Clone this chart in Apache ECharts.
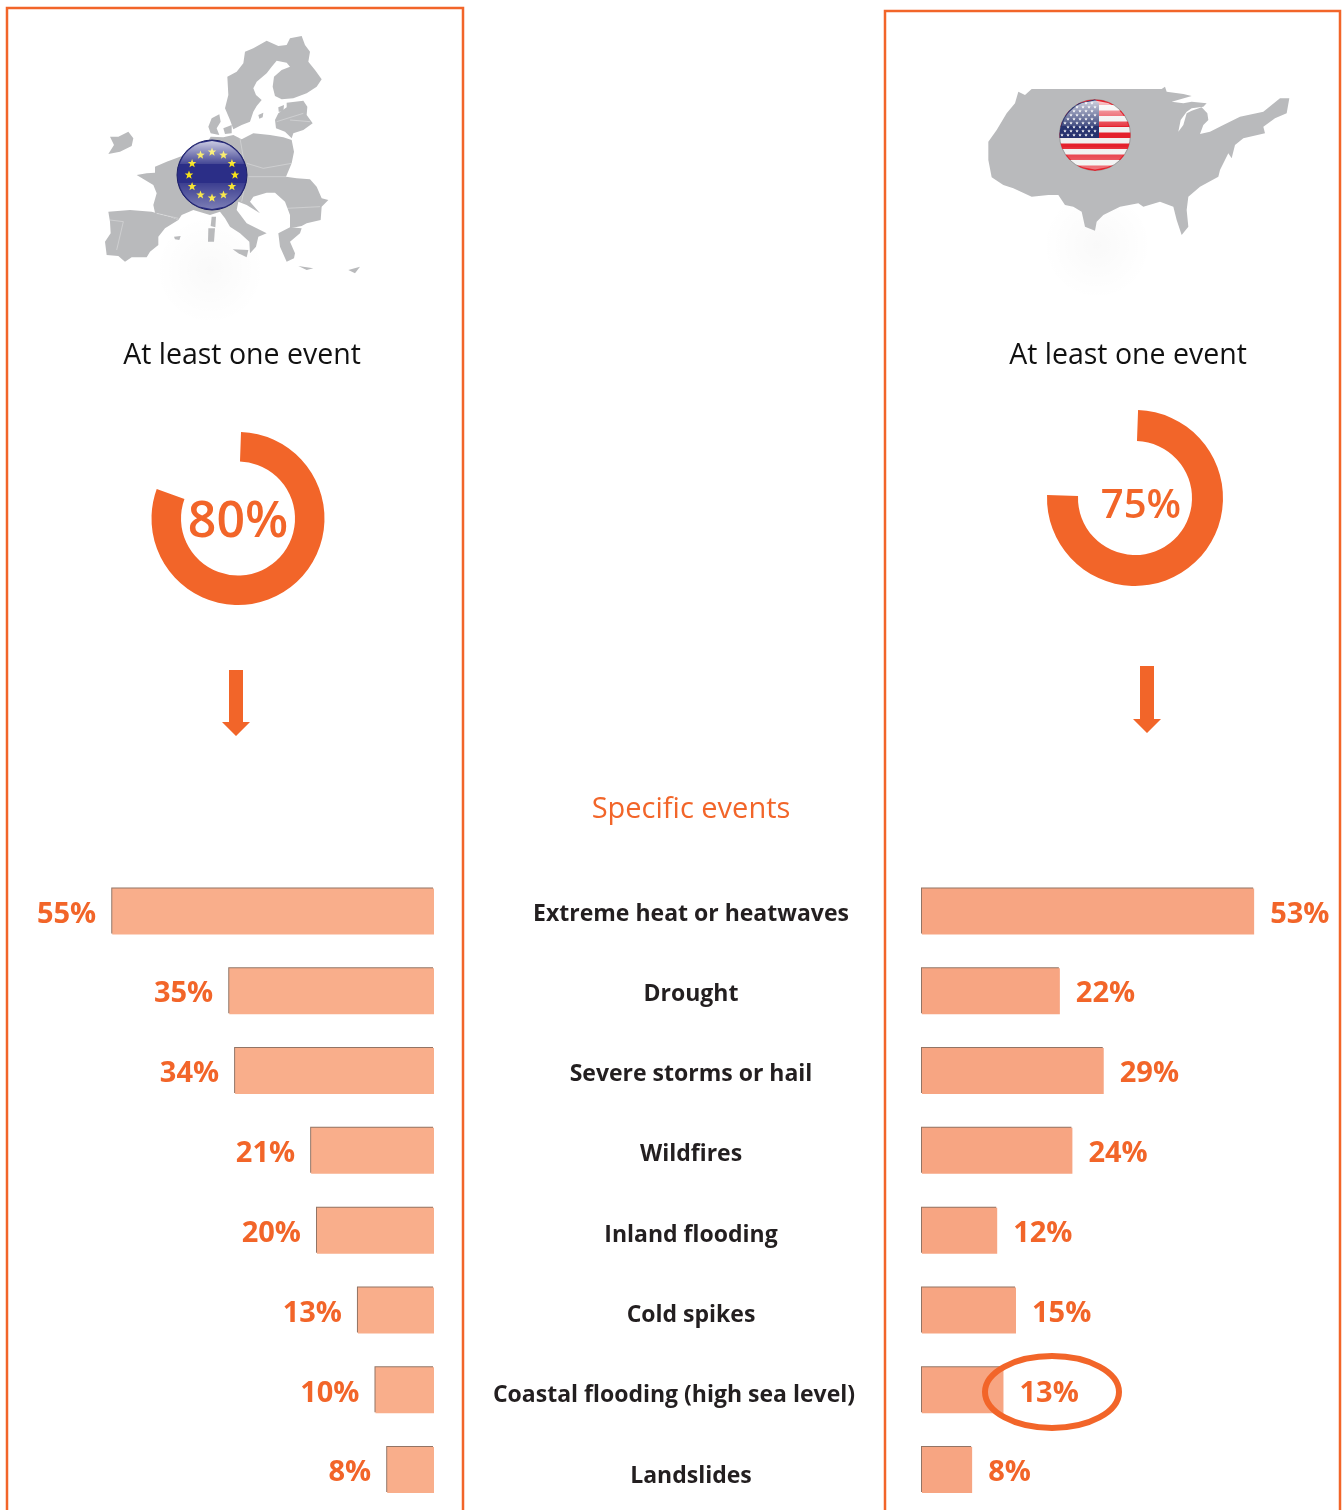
<!DOCTYPE html>
<html>
<head>
<meta charset="utf-8">
<title>Extreme weather events</title>
<style>
  html, body { margin: 0; padding: 0; background: #fff; }
  #main { width: 1342px; height: 1510px; }
</style>
</head>
<body>
<div id="main"></div>
<script src="https://cdn.jsdelivr.net/npm/echarts@6/dist/echarts.min.js"></script>
<script>
// data
var categories = ["Extreme heat or heatwaves", "Drought", "Severe storms or hail", "Wildfires", "Inland flooding", "Cold spikes", "Coastal flooding (high sea level)", "Landslides"];
var euValues = [55, 35, 34, 21, 20, 13, 10, 8];
var usValues = [53, 22, 29, 24, 12, 15, 13, 8];
var euAtLeastOne = 80;
var usAtLeastOne = 75;
var atLeastOneText = "At least one event";
var specificText = "Specific events";

var ORANGE = "#f26529";
var GREY = "#b9babc";
var FONT = '"Open Sans", "Noto Sans", sans-serif';

var chart = echarts.init(document.getElementById("main"), null, { renderer: "canvas" });

// horizontal slice of a disc, optionally cut at x0/x1 (flag stripes, gloss)
function discSlice(cx, cy, r, y0, y1, x0, x1) {
  var left = [], right = [];
  var n = 10;
  for (var i = 0; i <= n; i++) {
    var y = y0 + (y1 - y0) * i / n;
    var d = Math.sqrt(Math.max(0, r * r - (y - cy) * (y - cy)));
    var a = cx - d, b = cx + d;
    if (x0 !== undefined) a = Math.max(a, x0);
    if (x1 !== undefined) b = Math.min(b, x1);
    if (b < a) b = a;
    left.push([a, y]);
    right.unshift([b, y]);
  }
  return left.concat(right);
}

function starPoints(cx, cy, r) {
  var pts = [];
  for (var i = 0; i < 10; i++) {
    var rr = i % 2 ? r * 0.42 : r;
    var ang = -Math.PI / 2 + i * Math.PI / 5;
    pts.push([cx + rr * Math.cos(ang), cy + rr * Math.sin(ang)]);
  }
  return pts;
}

function poly(points, fill, z) {
  return { type: "polygon", z: z || 5, silent: true, shape: { points: points }, style: { fill: fill } };
}

function gloss(from, to) {
  return new echarts.graphic.LinearGradient(0, 0, 0, 1, [
    { offset: 0, color: from },
    { offset: 1, color: to }
  ]);
}

// map outlines, traced at 3x and scaled down by the group
var euShapes = [
  [[465,95],[490,85],[530,62],[565,78],[590,75],[600,55],[635,48],[645,75],[660,95],[655,125],[675,150],[695,178],[680,200],[650,220],[610,235],[575,238],[555,228],[548,200],[552,170],[575,150],[600,140],[590,128],[560,122],[545,140],[530,160],[500,185],[490,205],[498,225],[515,240],[500,258],[490,275],[480,305],[455,315],[430,328],[420,300],[405,265],[415,225],[412,170],[440,155],[460,130]],
  [[555,300],[565,280],[590,262],[590,248],[640,242],[652,260],[650,285],[668,310],[640,330],[610,340],[605,355],[585,335],[558,325]],
  [[355,320],[365,295],[388,283],[392,305],[380,325],[388,345],[362,340]],
  [[400,325],[425,315],[425,340],[405,342]],
  [[565,262],[582,255],[580,275],[566,275]],
  [[505,285],[520,278],[518,292],[508,296]],
  [[140,465],[170,460],[195,458],[195,440],[230,425],[270,410],[310,395],[350,370],[362,350],[400,352],[430,345],[455,358],[490,340],[540,345],[580,352],[605,360],[612,395],[605,430],[588,470],[620,475],[660,478],[680,500],[695,535],[715,540],[695,560],[692,600],[650,610],[635,618],[600,625],[600,585],[585,545],[555,518],[530,518],[490,530],[480,545],[510,580],[470,555],[445,545],[440,570],[470,610],[500,625],[530,640],[505,650],[498,680],[480,700],[478,665],[450,640],[420,620],[405,595],[390,575],[360,585],[310,570],[275,585],[265,600],[240,590],[195,578],[190,555],[200,520],[190,495]],
  [[55,575],[120,570],[185,575],[240,590],[265,600],[225,625],[205,650],[205,675],[180,695],[170,712],[125,712],[105,725],[85,708],[50,705],[45,665],[62,640],[60,605]],
  [[60,350],[85,350],[115,335],[130,355],[125,378],[90,395],[55,402],[72,375]],
  [[365,590],[378,590],[376,622],[362,618]],
  [[355,625],[375,625],[372,665],[354,665]],
  [[428,688],[475,690],[470,712],[445,700]],
  [[565,640],[600,622],[635,625],[630,640],[600,665],[615,700],[612,715],[590,725],[570,680]],
  [[625,738],[670,745],[650,750]],
  [[775,750],[810,740],[795,760]],
  [[252,650],[272,648],[268,660],[255,658]]
];
var euBorders = [
  [[450,355],[470,470],[455,545]],
  [[470,430],[520,445],[605,430]],
  [[475,470],[590,470]],
  [[590,565],[690,560]],
  [[60,600],[100,605],[80,690]],
  [[200,580],[265,595]],
  [[600,300],[660,305]],
  [[560,305],[640,280]]
];
var usShape = [[185,57],[575,57],[585,50],[590,65],[640,72],[665,78],[605,95],[640,100],[665,95],[710,100],[700,110],[665,115],[650,125],[632,150],[625,185],[640,165],[650,130],[665,122],[695,112],[712,130],[715,150],[700,165],[690,192],[720,185],[760,165],[810,140],[880,125],[905,105],[930,85],[958,85],[950,130],[915,145],[880,170],[885,190],[820,205],[795,225],[785,265],[775,250],[750,300],[745,320],[690,350],[655,380],[650,420],[655,470],[635,495],[620,450],[610,410],[570,395],[520,410],[505,400],[450,410],[400,435],[380,455],[375,482],[345,470],[335,425],[310,410],[285,405],[265,375],[235,375],[185,380],[130,355],[100,345],[65,322],[55,270],[55,215],[80,180],[110,130],[135,100],[145,65],[165,75]];

function softShadow(cx, cy, r) {
  return {
    type: "circle", z: 1, silent: true,
    shape: { cx: cx, cy: cy, r: r },
    style: {
      fill: new echarts.graphic.RadialGradient(0.5, 0.5, 0.5, [
        { offset: 0, color: "rgba(0,0,0,0.025)" },
        { offset: 1, color: "rgba(0,0,0,0)" }
      ])
    }
  };
}

function euFlag() {
  var cx = 212, cy = 175, r = 35;
  var items = [{
    type: "circle", z: 6, silent: true,
    shape: { cx: cx, cy: cy, r: r },
    style: { fill: "#2b2e87", stroke: "#1c1f66", lineWidth: 1 }
  }];
  for (var i = 0; i < 12; i++) {
    var a = i * Math.PI / 6;
    items.push(poly(starPoints(cx + 23 * Math.cos(a), cy + 23 * Math.sin(a), 4.5), "#f6e21a", 7));
  }
  items.push(poly(discSlice(cx, cy, r - 1, cy - r + 1, cy - 11), gloss("rgba(255,255,255,0.75)", "rgba(255,255,255,0.12)"), 8));
  items.push(poly(discSlice(cx, cy, r - 1, cy + 8, cy + r - 1), gloss("rgba(255,255,255,0.08)", "rgba(255,255,255,0.38)"), 8));
  return items;
}

function usFlag() {
  var cx = 1095, cy = 135, r = 35.5;
  var top = 99.5, h = 5.5, cantonRight = 1099, cantonBottom = 138;
  var items = [{
    type: "circle", z: 6, silent: true,
    shape: { cx: cx, cy: cy, r: r },
    style: { fill: "#f0f0f0", stroke: "#9a9a9a", lineWidth: 1 }
  }];
  for (var i = 0; i < 13; i += 2) {
    items.push(poly(discSlice(cx, cy, r, top + i * h, top + (i + 1) * h), "#e4202c", 7));
  }
  items.push(poly(discSlice(cx, cy, r, cy - r, cantonBottom, undefined, cantonRight), "#27336f", 7));
  for (var row = 0; row < 9; row++) {
    for (var col = 0; col < 7; col++) {
      var sx = 1062 + col * 6 + (row % 2 ? 3 : 0);
      var sy = 103 + row * 4;
      var dy = sy - cy, dx = sx - cx;
      if (sx < cantonRight - 1 && dx * dx + dy * dy < (r - 2) * (r - 2)) {
        items.push(poly(starPoints(sx, sy, 1.8), "#ffffff", 7));
      }
    }
  }
  items.push(poly(discSlice(cx, cy, r - 1, cy - r + 1, cy - 9), gloss("rgba(255,255,255,0.78)", "rgba(255,255,255,0.12)"), 8));
  items.push(poly(discSlice(cx, cy, r - 1, cy + 12, cy + r - 1), gloss("rgba(255,255,255,0.05)", "rgba(255,255,255,0.4)"), 8));
  return items;
}

function arrow(x, y0, y1) {
  return poly([[x - 7, y0], [x + 7, y0], [x + 7, y1 - 14], [x + 14, y1 - 14], [x, y1], [x - 14, y1 - 14], [x - 7, y1 - 14]], ORANGE, 5);
}

function frame(x0, x1, y) {
  return {
    type: "polyline", z: 3, silent: true,
    shape: { points: [[x0, 1530], [x0, y], [x1, y], [x1, 1530]] },
    style: { fill: null, stroke: ORANGE, lineWidth: 2.5 }
  };
}

function textEl(str, x, y, size, color, weight) {
  return {
    type: "text", z: 20, silent: true, x: x, y: y,
    style: { text: str, fill: color, font: (weight || 400) + " " + size + "px " + FONT, textAlign: "center", textVerticalAlign: "middle" }
  };
}

// category names in the middle column; the long coastal one sits further left
var categoryLabels = categories.map(function (name, i) {
  return textEl(name, i === 6 ? 674 : 691, 914 + i * 80.3, 23, "#231f20", 700);
});

var graphics = [
  frame(7, 463, 8),
  frame(885, 1340, 11),
  softShadow(210, 270, 55),
  softShadow(1097, 245, 55),
  {
    type: "group", x: 90, y: 20, scaleX: 1 / 3, scaleY: 1 / 3, silent: true,
    children: euShapes.map(function (p) { return poly(p, GREY, 4); }).concat(euBorders.map(function (p) {
      return { type: "polyline", z: 4, silent: true, shape: { points: p }, style: { fill: null, stroke: "rgba(255,255,255,0.45)", lineWidth: 2 } };
    }))
  },
  {
    type: "group", x: 970, y: 70, scaleX: 1 / 3, scaleY: 1 / 3, silent: true,
    children: [poly(usShape, GREY, 4)]
  },
  arrow(236, 670, 736),
  arrow(1147, 666, 733),
  textEl(atLeastOneText, 242, 356, 28.5, "#111111"),
  textEl(atLeastOneText, 1128, 356, 28.5, "#111111"),
  textEl(euAtLeastOne + "%", 238, 523, 50, ORANGE, 600),
  textEl(usAtLeastOne + "%", 1141, 507, 40, ORANGE, 600),
  textEl(specificText, 691, 810, 29, ORANGE),
  // ring around the 13% that is being pointed out
  {
    type: "ellipse", z: 30, silent: true,
    shape: { cx: 1052, cy: 1392, rx: 67, ry: 36 },
    style: { fill: null, stroke: ORANGE, lineWidth: 6 }
  }
].concat(euFlag(), usFlag(), categoryLabels);

function donut(center, value, outer) {
  return {
    type: "pie",
    silent: true,
    center: center,
    radius: [57, outer],
    startAngle: 88,
    clockwise: true,
    label: { show: false },
    labelLine: { show: false },
    emphasis: { disabled: true },
    data: [
      { value: value, itemStyle: { color: ORANGE } },
      { value: 100 - value, itemStyle: { color: "rgba(0,0,0,0)" } }
    ]
  };
}

function barSeries(idx, values, color, pos) {
  return {
    type: "bar",
    silent: true,
    xAxisIndex: idx,
    yAxisIndex: idx,
    barWidth: 46,
    data: values,
    itemStyle: {
      color: color,
      // thin dark edge along the top and inner side of each bar
      shadowColor: "rgba(110,70,50,0.75)",
      shadowBlur: 0,
      shadowOffsetX: -1,
      shadowOffsetY: -1
    },
    label: {
      show: true,
      position: pos,
      distance: 16,
      offset: [0, 3],
      formatter: "{c}%",
      color: ORANGE,
      fontFamily: FONT,
      fontWeight: 700,
      fontSize: 29
    }
  };
}

chart.setOption({
  animation: false,
  backgroundColor: "#ffffff",
  graphic: { elements: graphics },
  grid: [
    { left: 83, width: 351, top: 871.5, height: 640 },
    { left: 922, width: 376, top: 871.5, height: 640 }
  ],
  xAxis: [
    { gridIndex: 0, type: "value", min: 0, max: 60, inverse: true, show: false },
    { gridIndex: 1, type: "value", min: 0, max: 60, show: false }
  ],
  yAxis: [
    {
      gridIndex: 0, type: "category", data: categories, inverse: true, position: "right",
      axisLine: { show: false }, axisTick: { show: false }, axisLabel: { show: false }
    },
    {
      gridIndex: 1, type: "category", data: categories, inverse: true,
      axisLine: { show: false }, axisTick: { show: false }, axisLabel: { show: false }
    }
  ],
  series: [
    donut([238, 518.5], euAtLeastOne, 86.5),
    donut([1135, 498], usAtLeastOne, 88),
    barSeries(0, euValues, "#f9ae8b", "left"),
    barSeries(1, usValues, "#f7a582", "right")
  ]
});
</script>
</body>
</html>
